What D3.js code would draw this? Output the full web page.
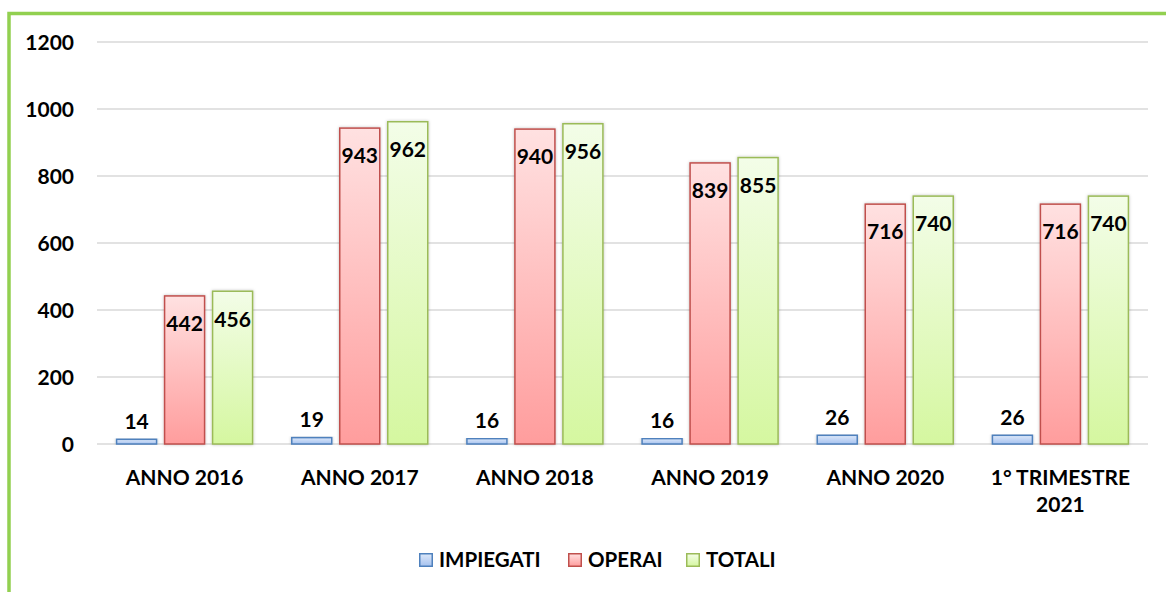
<!DOCTYPE html>
<html><head><meta charset="utf-8">
<script src="https://cdn.jsdelivr.net/npm/d3@7"></script>
<style>
html,body{margin:0;padding:0;background:#fff;}
svg{display:block;}
text{font-family:Lato,"Open Sans",sans-serif;font-weight:700;fill:#000;}
</style></head>
<body>
<script>
const categories = [["ANNO 2016"],["ANNO 2017"],["ANNO 2018"],["ANNO 2019"],["ANNO 2020"],["1° TRIMESTRE","2021"]];
const seriesNames = ["IMPIEGATI","OPERAI","TOTALI"];
const impiegati = [14,19,16,16,26,26];
const operai = [442,943,940,839,716,716];
const totali = [456,962,956,855,740,740];
const yTicks = [0,200,400,600,800,1000,1200];

const values = [impiegati, operai, totali];
const colors = [
  {top:"#dde8f9", bot:"#a6c2ef", stroke:"#4f81bd"},
  {top:"#ffe1e1", bot:"#ff9d9d", stroke:"#c0504d"},
  {top:"#f3fde8", bot:"#d5f7a0", stroke:"#9bbb59"}
];

const W = 1166, H = 592;
const svg = d3.select("body").append("svg").attr("width", W).attr("height", H);
const defs = svg.append("defs");
colors.forEach((c,i)=>{
  const g = defs.append("linearGradient").attr("id","g"+i).attr("x1",0).attr("y1",0).attr("x2",0).attr("y2",1);
  g.append("stop").attr("offset","0%").attr("stop-color",c.top);
  g.append("stop").attr("offset","100%").attr("stop-color",c.bot);
});
const f = defs.append("filter").attr("id","sh").attr("x","-30%").attr("y","-10%").attr("width","160%").attr("height","120%");
f.append("feDropShadow").attr("dx",0).attr("dy",0).attr("stdDeviation",1.6).attr("flood-color","#000").attr("flood-opacity",0.25);

// border
svg.append("rect").attr("x",9).attr("y",13.5).attr("width",1300).attr("height",800)
  .attr("fill","none").attr("stroke","#92d050").attr("stroke-width",3.5);

const left = 97, right = 1148, y0 = 444, yTop = 42;
const x0 = d3.scaleBand().domain(d3.range(categories.length)).range([left,right]).padding(0);
const x1 = d3.scaleBand().domain(d3.range(seriesNames.length)).range([-68,68]).paddingInner(8/48).paddingOuter(0);
const y = d3.scaleLinear().domain([0,1200]).range([y0,yTop]);

// grid
svg.append("g").selectAll("line").data(yTicks).join("line")
  .attr("x1",left).attr("x2",right).attr("y1",d=>y(d)).attr("y2",d=>y(d))
  .attr("stroke","#d9d9d9").attr("stroke-width",1.5);

// y axis labels
const yAxis = d3.axisLeft(y).tickValues(yTicks).tickSize(0).tickPadding(0).tickFormat(d3.format("d"));
const ya = svg.append("g").attr("transform",`translate(74,0)`).call(yAxis);
ya.select(".domain").remove();
ya.selectAll("text").attr("font-size",21).attr("dy","0.35em").style("font-family","Lato").style("font-weight",700).attr("fill","#000");

// bars
const groups = svg.append("g").selectAll("g").data(categories.map((c,i)=>i)).join("g")
  .attr("transform",i=>`translate(${x0(i)+x0.bandwidth()/2},0)`);
groups.each(function(ci){
  const g = d3.select(this);
  values.forEach((arr,si)=>{
    const v = arr[ci];
    g.append("rect").attr("x",x1(si)).attr("width",x1.bandwidth())
      .attr("y",y(v)).attr("height",y0-y(v))
      .attr("fill",`url(#g${si})`).attr("stroke",colors[si].stroke).attr("stroke-width",1.5)
      .attr("filter","url(#sh)");
  });
  values.forEach((arr,si)=>{
    const v = arr[ci];
    const cx = x1(si)+x1.bandwidth()/2;
    const ty = si===0 ? y(v)-18 : y(v)+28;
    g.append("text").attr("x",cx).attr("y",ty).attr("dy","0.35em").attr("text-anchor","middle")
      .attr("font-size",21).text(v);
  });
});

// x labels
const xl = svg.append("g").selectAll("text").data(categories).join("text")
  .attr("x",(d,i)=>x0(i)+x0.bandwidth()/2).attr("y",478).attr("text-anchor","middle").attr("font-size",21);
xl.each(function(lines){
  const t = d3.select(this);
  lines.forEach((l,k)=>t.append("tspan").attr("x",t.attr("x")).attr("dy", k===0?"0.35em":"27px").text(l));
});

// legend
const legX = [419, 568, 686];
const leg = svg.append("g").selectAll("g").data(seriesNames).join("g")
  .attr("transform",(d,i)=>`translate(${legX[i]},560)`);
leg.append("rect").attr("x",0.75).attr("y",-6.25).attr("width",12.5).attr("height",12.5)
  .attr("fill",(d,i)=>`url(#g${i})`).attr("stroke",(d,i)=>colors[i].stroke).attr("stroke-width",1.5);
leg.append("text").attr("x",20).attr("y",0).attr("dy","0.35em").attr("font-size",20.5).text(d=>d);
</script>
</body></html>
